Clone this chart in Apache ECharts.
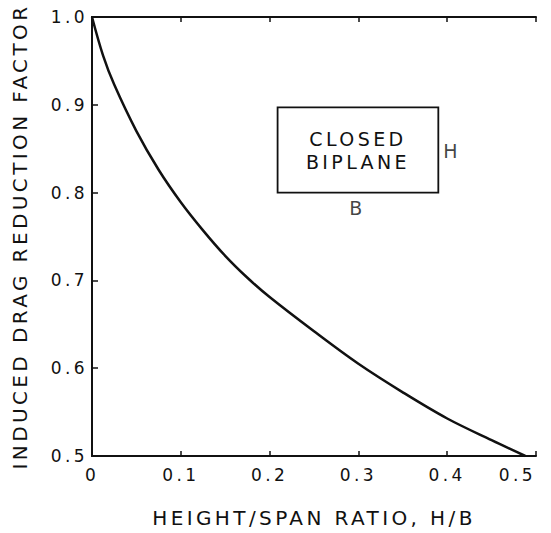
<!DOCTYPE html>
<html>
<head>
<meta charset="utf-8">
<script src="https://cdn.jsdelivr.net/npm/echarts@6/dist/echarts.min.js"></script>
<style>
  html, body { margin: 0; padding: 0; background: #fff; }
  #chart { width: 551px; height: 533px; }
  #chart svg text { letter-spacing: 3.4px; }
</style>
</head>
<body>
<div id="chart"></div>
<script>
// ---- data ----
const hbRatio    = [0, 0.0125, 0.025, 0.05, 0.075, 0.1, 0.125, 0.15, 0.175, 0.2, 0.25, 0.3, 0.35, 0.4, 0.45, 0.488];
const dragFactor = [1.0, 0.956, 0.923, 0.870, 0.826, 0.789, 0.757, 0.728, 0.703, 0.681, 0.642, 0.605, 0.5725, 0.5427, 0.518, 0.5];
const xTickValues = [0, 0.1, 0.2, 0.3, 0.4, 0.5];
const yTickValues = [0.5, 0.6, 0.7, 0.8, 0.9, 1.0];
const xTitle = 'HEIGHT/SPAN RATIO, H/B';
const yTitle = 'INDUCED DRAG REDUCTION FACTOR';
const boxText = 'CLOSED\nBIPLANE';
const boxCorners = [[0.209, 0.800], [0.390, 0.897]];
const boxSideLabels = [[0.4056, 0.847, 'H'], [0.299, 0.7824, 'B']];

const ink = '#111';
const fontFamily = '"DejaVu Sans", sans-serif';

const chart = echarts.init(document.getElementById('chart'), null, { renderer: 'svg' });

const xMin = xTickValues[0], xMax = xTickValues[xTickValues.length - 1];
const yMin = yTickValues[0], yMax = yTickValues[yTickValues.length - 1];
const xStep = xTickValues[1] - xTickValues[0];
const yStep = yTickValues[1] - yTickValues[0];

const frameAxis = {
  axisLine: { show: true, lineStyle: { color: ink, width: 2 } },
  splitLine: { show: false },
  animation: false
};

chart.setOption({
  animation: false,
  backgroundColor: '#fff',
  grid: { left: 92, right: 15, top: 17, bottom: 68 },
  xAxis: [
    Object.assign({}, frameAxis, {
      type: 'value', position: 'bottom', min: xMin, max: xMax, interval: xStep,
      axisTick: { show: true, inside: true, length: 5, lineStyle: { color: ink, width: 1.5 } },
      axisLabel: {
        color: ink, fontSize: 17, fontFamily: fontFamily, margin: 10,
        alignMaxLabel: 'right',
        formatter: v => (v === 0 ? '0' : v.toFixed(1))
      },
      name: xTitle, nameLocation: 'middle', nameGap: 52,
      nameTextStyle: { color: ink, fontSize: 20, fontFamily: fontFamily }
    }),
    Object.assign({}, frameAxis, {
      type: 'value', position: 'top', min: xMin, max: xMax, interval: xStep,
      axisTick: { show: true, inside: true, length: 5, lineStyle: { color: ink, width: 1.5 } },
      axisLabel: { show: false }
    })
  ],
  yAxis: [
    Object.assign({}, frameAxis, {
      type: 'value', position: 'left', min: yMin, max: yMax, interval: yStep,
      axisTick: { show: true, inside: true, length: 6, lineStyle: { color: ink, width: 1.5 } },
      axisLabel: {
        color: ink, fontSize: 17, fontFamily: fontFamily, margin: 4,
        formatter: v => v.toFixed(1)
      },
      name: yTitle, nameLocation: 'middle', nameGap: 62, nameRotate: 90,
      nameTextStyle: { color: ink, fontSize: 20, fontFamily: fontFamily }
    }),
    Object.assign({}, frameAxis, {
      type: 'value', position: 'right', min: yMin, max: yMax, interval: yStep,
      axisTick: { show: false },
      axisLabel: { show: false }
    })
  ],
  series: [
    {
      type: 'line',
      xAxisIndex: 0, yAxisIndex: 0,
      data: hbRatio.map((x, i) => [x, dragFactor[i]]),
      smooth: 0.35,
      showSymbol: false,
      symbol: 'none',
      lineStyle: { color: ink, width: 2.5 },
      silent: true,
      markArea: {
        silent: true,
        itemStyle: { color: 'rgba(0,0,0,0)', borderColor: ink, borderWidth: 1.8 },
        label: {
          show: true, position: 'inside', formatter: boxText,
          color: ink, fontSize: 19, lineHeight: 23, fontFamily: fontFamily
        },
        data: [[{ coord: boxCorners[0] }, { coord: boxCorners[1] }]]
      }
    },
    {
      type: 'scatter',
      xAxisIndex: 0, yAxisIndex: 0,
      data: boxSideLabels,
      symbolSize: 1,
      itemStyle: { color: 'rgba(0,0,0,0)' },
      silent: true,
      label: {
        show: true, position: 'inside',
        formatter: p => p.value[2],
        color: ink, fontSize: 19, fontFamily: fontFamily
      }
    }
  ]
});
</script>
</body>
</html>
